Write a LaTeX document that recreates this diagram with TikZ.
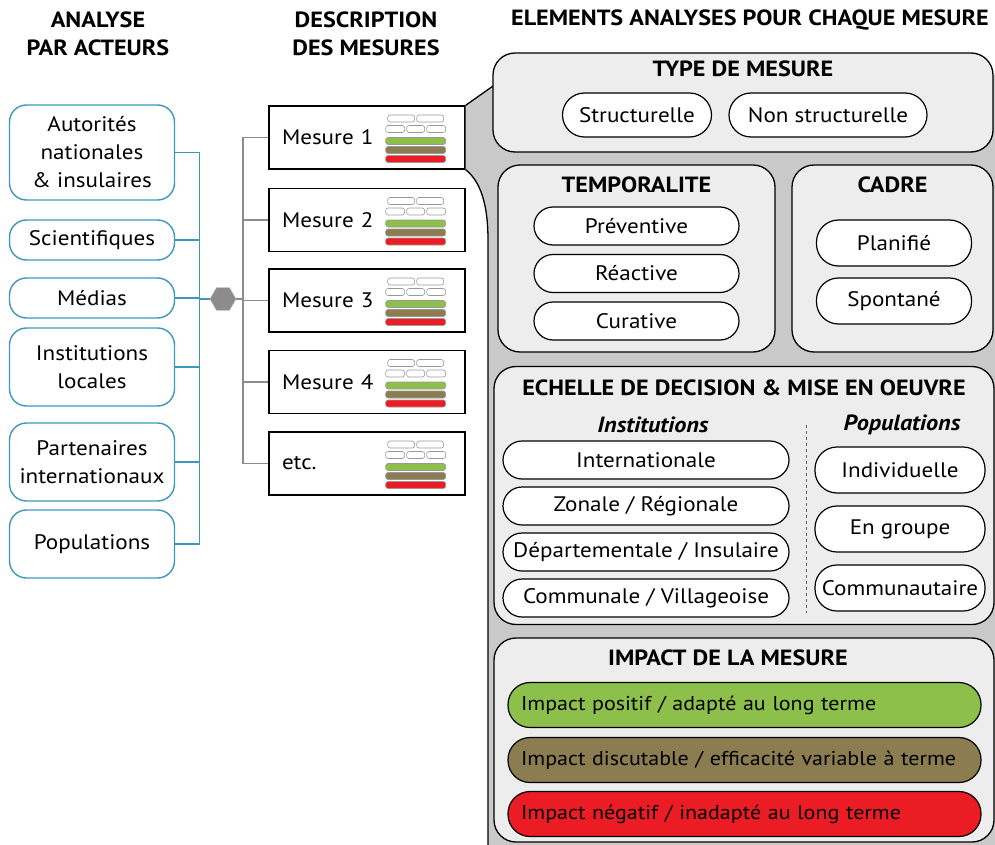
\documentclass[tikz,border=0pt]{standalone}
\usepackage{fontspec}
\setmainfont{PT Sans}[FakeStretch=1.1]
\usetikzlibrary{positioning, shapes.geometric}

\definecolor{actorblue}{HTML}{3E98BE}
\definecolor{panelgray}{HTML}{C9C9C9}
\definecolor{boxgray}{HTML}{EDEDED}
\definecolor{linegray}{HTML}{8C8C8C}
\definecolor{goodgreen}{HTML}{8DC04A}
\definecolor{midbrown}{HTML}{8B7D4F}
\definecolor{badred}{HTML}{EC1C24}

\begin{document}
\begin{tikzpicture}[x=1pt, y=-1pt,
      font=\fontsize{21}{28}\selectfont,
      head/.style={font=\fontsize{22}{28}\selectfont\bfseries, align=center},
      actor/.style={draw=actorblue, line width=1.4pt, fill=white, rounded corners=17pt,
        minimum width=165pt, align=center, inner sep=1pt},
      mesure/.style={draw, line width=1.3pt, fill=white, minimum height=63pt,
        text width=170pt, inner xsep=13pt, align=left},
      panelbox/.style={draw, line width=1.3pt, fill=boxgray, rounded corners=22pt},
      boxtitle/.style={font=\fontsize{22}{24}\selectfont\bfseries, inner sep=0pt},
      pill/.style={draw, line width=1.2pt, fill=white, rounded corners=19pt, minimum height=38pt, inner sep=0pt},
      bigpill/.style={draw, line width=1.2pt, fill=white, rounded corners=22pt, minimum height=45pt, inner sep=0pt},
      impact/.style={bigpill, text width=447pt, inner xsep=13pt, align=left, font=\fontsize{20}{24}\selectfont},
      blueline/.style={draw=actorblue, line width=1.4pt},
      grayline/.style={draw=linegray, line width=1.6pt},
      mini/.style={draw=black!40, line width=0.6pt, rounded corners=2.5pt}]

  \useasboundingbox (0,0) rectangle (995,845);

  % headings
  \node[head] (h1) at (98,34) {ANALYSE\\PAR ACTEURS};
  \node[head] (h2) at (366,34) {DESCRIPTION\\DES MESURES};
  \node[head] (h3) at (750,20) {ELEMENTS ANALYSES POUR CHAQUE MESURE};

  % actors
  \node[actor, minimum height=95pt] (aut) at (92,152.5) {Autorités\\nationales\\\& insulaires};
  \node[actor, minimum height=40pt] (sci) at (92,240) {Scientifiques};
  \node[actor, minimum height=40pt] (med) at (92,298) {Médias};
  \node[actor, minimum height=78pt] (inst) at (92,367) {Institutions\\locales};
  \node[actor, minimum height=78pt] (part) at (92,462) {Partenaires\\internationaux};
  \node[actor, minimum height=68pt] (pop) at (92,544) {Populations};

  \node[regular polygon, regular polygon sides=6, minimum size=26pt, inner sep=0pt,
        fill=black!45, draw=black!30] (hub) at (223,299) {};

  \foreach \a in {aut,sci,med,inst,part,pop}
    \draw[blueline] (\a.east) -- ++(24,0) |- (hub.west);

  % mesures
  \node[mesure] (m1) at (367,137.5) {Mesure 1};
  \node[mesure] (m2) at (367,220) {Mesure 2};
  \node[mesure] (m3) at (367,300.5) {Mesure 3};
  \node[mesure] (m4) at (367,382) {Mesure 4};
  \node[mesure] (m5) at (367,463.5) {etc.};

  \foreach \m in {m1,m2,m3,m4,m5}
    \draw[grayline] (hub.east) -- ++(7,0) |- (\m.west);

  % small icons
  \foreach \m in {m1,m2,m3,m4,m5} {
    \begin{scope}[shift={(\m.east)}]
      \draw[mini, fill=white] (-78,-22.5) rectangle (-51,-15.5);
      \draw[mini, fill=white] (-49,-22.5) rectangle (-22,-15.5);
      \draw[mini, fill=white] (-80,-12) rectangle (-61,-5);
      \draw[mini, fill=white] (-59,-12) rectangle (-41,-5);
      \draw[mini, fill=white] (-39,-12) rectangle (-20,-5);
      \draw[mini, fill=goodgreen] (-80,0) rectangle (-20,7);
      \draw[mini, fill=midbrown] (-80,9) rectangle (-20,16);
      \draw[mini, fill=badred] (-80,18) rectangle (-20,25);
    \end{scope}
  }

  % grey panel behind the elements
  \coordinate (pa) at (493,86);
  \coordinate (pb) at (488,240);
  \fill[panelgray] (m1.north east) -- (pa) -- (493,75) -- (995,75) -- (995,845) -- (488,845)
    -- (pb) .. controls (488,195) and (476,178) .. (m1.south east) -- cycle;
  \draw[line width=1.3pt] (m1.north east) -- (pa);
  \draw[line width=1.3pt] (m1.south east) .. controls (476,178) and (488,195) .. (pb) -- (488,845);

  % type de mesure
  \node[panelbox, minimum width=500pt, minimum height=99pt] (type) at (743,102.5) {};
  \node[boxtitle, below=8pt of type.north] (typet) {TYPE DE MESURE};
  \node[bigpill, minimum width=149pt, minimum height=44pt] (struc) at (637,115) {Structurelle};
  \node[bigpill, minimum width=198pt, minimum height=44pt] (nstruc) at (828,115) {Non structurelle};

  % temporalite
  \node[panelbox, minimum width=277pt, minimum height=187pt] (temp) at (636.5,258.5) {};
  \node[boxtitle, below=12pt of temp.north] (tempt) {TEMPORALITE};
  \node[pill, minimum width=205pt] (prev) at (636.5,226) {Préventive};
  \node[pill, minimum width=205pt] (reac) at (636.5,273.5) {Réactive};
  \node[pill, minimum width=205pt] (cura) at (636.5,321) {Curative};

  % cadre
  \node[panelbox, minimum width=201pt, minimum height=187pt] (cadre) at (892.5,258.5) {};
  \node[boxtitle, below=12pt of cadre.north] (cadret) {CADRE};
  \node[bigpill, minimum width=155pt, minimum height=46pt] (plan) at (894,243) {Planifié};
  \node[bigpill, minimum width=155pt, minimum height=46pt] (spon) at (894,301) {Spontané};

  % echelle
  \node[panelbox, minimum width=500pt, minimum height=258pt] (ech) at (744,495.5) {};
  \node[boxtitle, below=14pt of ech.north] (echt) {ECHELLE DE DECISION \& MISE EN OEUVRE};
  \node[boxtitle, font=\fontsize{22}{24}\selectfont\bfseries\itshape] (instt) at (653,425) {Institutions};
  \node[boxtitle, font=\fontsize{22}{24}\selectfont\bfseries\itshape] (popt) at (902,425) {Populations};
  \draw[dashed, black!60, line width=0.6pt] (806,425) -- (806,613);
  \node[pill, minimum width=286pt] (intl) at (646,460) {Internationale};
  \node[pill, minimum width=286pt] (zone) at (646,506) {Zonale / Régionale};
  \node[pill, minimum width=286pt] (dept) at (646,552) {Départementale / Insulaire};
  \node[pill, minimum width=286pt] (comm) at (646,598) {Communale / Villageoise};
  \node[bigpill, minimum width=170pt, minimum height=46pt] (indi) at (900,470) {Individuelle};
  \node[bigpill, minimum width=170pt, minimum height=46pt] (grp) at (900,529) {En groupe};
  \node[bigpill, minimum width=170pt, minimum height=46pt] (cmty) at (900,588) {Communautaire};

  % impact
  \node[panelbox, minimum width=500pt, minimum height=204pt] (imp) at (744,740) {};
  \node[boxtitle, below=12pt of imp.north, xshift=-16pt] (impt) {IMPACT DE LA MESURE};
  \node[impact, fill=goodgreen] (pos) at (744.5,705) {Impact positif / adapté au long terme};
  \node[impact, fill=midbrown] (disc) at (744.5,760) {Impact discutable / efficacité variable à terme};
  \node[impact, fill=badred] (neg) at (744.5,814) {Impact négatif / inadapté au long terme};
\end{tikzpicture}
\end{document}
